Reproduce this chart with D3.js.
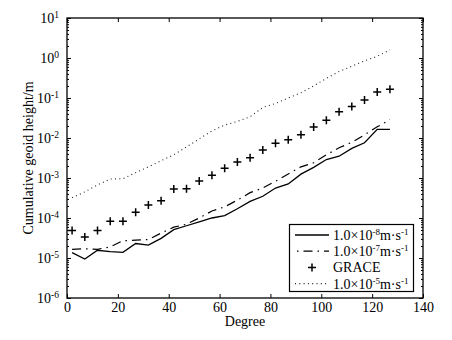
<!DOCTYPE html>
<html>
<head>
<meta charset="utf-8">
<script src="https://cdn.jsdelivr.net/npm/d3@7"></script>
<style>
  body { margin: 0; background: #fff; }
  svg { font-family: "Liberation Serif", "Times New Roman", serif; }
</style>
</head>
<body>
<svg id="chart" width="452" height="340"></svg>
<script>
// degrees sampled every 5
let degrees = [2, 7, 12, 17, 22, 27, 32, 37, 42, 47, 52, 57, 62, 67, 72, 77, 82, 87, 92, 97, 102, 107, 112, 117, 122, 127];

let k1e8 = [1.36e-5, 9.4e-6, 1.56e-5, 1.45e-5, 1.38e-5, 2.3e-5, 2.1e-5, 3.1e-5, 5.1e-5, 6.4e-5, 8.0e-5, 1.0e-4, 1.15e-4,
  1.7e-4, 2.6e-4, 3.5e-4, 5.6e-4, 7.1e-4, 1.25e-3, 1.85e-3, 2.9e-3, 3.5e-3, 5.5e-3, 7.6e-3, 1.65e-2, 1.65e-2];

let k1e7 = [1.65e-5, 1.7e-5, 1.65e-5, 1.9e-5, 2.7e-5, 2.8e-5, 2.9e-5, 4.2e-5, 5.9e-5, 7.0e-5, 1.0e-4, 1.5e-4, 1.9e-4,
  2.8e-4, 4.3e-4, 5.6e-4, 8.3e-4, 1.26e-3, 1.9e-3, 2.4e-3, 3.8e-3, 5.7e-3, 7.8e-3, 1.2e-2, 1.9e-2, 2.9e-2];

let grace = [4.9e-5, 3.35e-5, 4.9e-5, 8.3e-5, 8.3e-5, 1.39e-4, 2.1e-4, 2.7e-4, 5.3e-4, 5.4e-4, 8.4e-4, 1.17e-3, 1.75e-3,
  2.5e-3, 3.2e-3, 5.0e-3, 7.4e-3, 9.1e-3, 1.21e-2, 1.88e-2, 2.77e-2, 4.55e-2, 6.1e-2, 8.9e-2, 0.141, 0.165];

let k1e5 = [3.2e-4, 4.5e-4, 6.7e-4, 9.4e-4, 9.6e-4, 1.36e-3, 1.9e-3, 2.7e-3, 3.8e-3, 6.0e-3, 9.5e-3, 1.5e-2, 2.1e-2,
  2.6e-2, 3.4e-2, 5.8e-2, 7.3e-2, 0.10, 0.135, 0.20, 0.31, 0.46, 0.62, 0.85, 1.1, 1.6];

let xTicks = [0, 20, 40, 60, 80, 100, 120, 140];
let yExps = [-6, -5, -4, -3, -2, -1, 0, 1];

let legendItems = [
  {exp: "-8", kind: "solid"},
  {exp: "-7", kind: "dashdot"},
  {label: "GRACE", kind: "plus"},
  {exp: "-5", kind: "dotted"}
];

let margin = {left: 67, right: 29, top: 18, bottom: 42};
let width = 452, height = 340;
let svg = d3.select("#chart");

let x = d3.scaleLinear().domain([0, 140]).range([margin.left, width - margin.right]);
let y = d3.scaleLog().domain([1e-6, 10]).range([height - margin.bottom, margin.top]);

let majorY = yExps.map(e => Math.pow(10, e));
let minorY = [];
yExps.slice(0, -1).forEach(e => {
  for (let m = 2; m <= 9; m++) minorY.push(m * Math.pow(10, e));
});

let styles = {
  solid: {dash: null, width: 1.3},
  dashdot: {dash: "9,5,1.5,5", width: 1.2},
  dotted: {dash: "1,3.3", width: 1.1}
};

// axes, ticks pointing inward
function styleAxis(g) {
  g.select(".domain").remove();
  g.selectAll("line").attr("stroke", "#000").attr("stroke-width", 1);
}

svg.append("g")
  .attr("transform", `translate(0,${y.range()[0]})`)
  .call(d3.axisBottom(x).tickValues(xTicks).tickSizeInner(-4).tickSizeOuter(0).tickPadding(4))
  .call(styleAxis)
  .selectAll("text")
  .attr("font-size", 14)
  .attr("fill", "#000")
  .attr("font-family", "Liberation Serif, Times New Roman, serif");

svg.append("g")
  .attr("transform", `translate(0,${y.range()[1]})`)
  .call(d3.axisTop(x).tickValues(xTicks).tickSizeInner(-4).tickSizeOuter(0).tickFormat(""))
  .call(styleAxis);

[["left", margin.left, d3.axisLeft, -1], ["right", width - margin.right, d3.axisRight, 1]].forEach(([side, pos, ax]) => {
  svg.append("g")
    .attr("transform", `translate(${pos},0)`)
    .call(ax(y).tickValues(majorY).tickSizeInner(-4).tickSizeOuter(0).tickFormat(""))
    .call(styleAxis);
  svg.append("g")
    .attr("transform", `translate(${pos},0)`)
    .call(ax(y).tickValues(minorY).tickSizeInner(-2).tickSizeOuter(0).tickFormat(""))
    .call(styleAxis);
});

// y tick labels as 10 with superscript
svg.append("g").selectAll("text")
  .data(yExps)
  .join("text")
  .attr("x", margin.left - 8)
  .attr("y", e => y(Math.pow(10, e)) + 5)
  .attr("text-anchor", "end")
  .attr("font-size", 14)
  .each(function(e) {
    let t = d3.select(this);
    t.append("tspan").text("10");
    t.append("tspan").attr("dy", -5).attr("font-size", 9.5).text(e);
  });

// frame
svg.append("rect")
  .attr("x", margin.left)
  .attr("y", margin.top)
  .attr("width", x.range()[1] - x.range()[0])
  .attr("height", y.range()[0] - y.range()[1])
  .attr("fill", "none")
  .attr("stroke", "#000")
  .attr("stroke-width", 1.3);

// series
let line = d3.line()
  .x((d, i) => x(degrees[i]))
  .y(d => y(d));

[[k1e8, "solid"], [k1e7, "dashdot"], [k1e5, "dotted"]].forEach(([vals, kind]) => {
  svg.append("path")
    .datum(vals)
    .attr("d", line)
    .attr("fill", "none")
    .attr("stroke", kind === "dotted" ? "#222" : "#000")
    .attr("stroke-width", styles[kind].width)
    .attr("stroke-dasharray", styles[kind].dash);
});

let plus = d3.symbol().type(d3.symbolCross);
function drawPlus(g, cx, cy) {
  g.append("path")
    .attr("d", `M${cx - 4},${cy}H${cx + 4}M${cx},${cy - 4}V${cy + 4}`)
    .attr("stroke", "#000")
    .attr("stroke-width", 1.5)
    .attr("fill", "none");
}

let gPts = svg.append("g");
grace.forEach((v, i) => drawPlus(gPts, x(degrees[i]), y(v)));

// axis titles
svg.append("text")
  .attr("x", (x.range()[0] + x.range()[1]) / 2)
  .attr("y", 326)
  .attr("text-anchor", "middle")
  .attr("font-size", 14)
  .text("Degree");

svg.append("text")
  .attr("transform", "translate(33,158) rotate(-90)")
  .attr("text-anchor", "middle")
  .attr("font-size", 14)
  .text("Cumulative geoid height/m");

// legend
let lg = svg.append("g");
lg.append("rect")
  .attr("x", 289.5).attr("y", 224.5)
  .attr("width", 124).attr("height", 67)
  .attr("fill", "#fff")
  .attr("stroke", "#000")
  .attr("stroke-width", 1.2);

legendItems.forEach((d, i) => {
  let cy = 235 + i * 16.2;
  if (d.kind === "plus") {
    drawPlus(lg, 312, cy);
  } else {
    lg.append("line")
      .attr("x1", 295).attr("x2", 329)
      .attr("y1", cy).attr("y2", cy)
      .attr("stroke", d.kind === "dotted" ? "#222" : "#000")
      .attr("stroke-width", styles[d.kind].width)
      .attr("stroke-dasharray", styles[d.kind].dash)
      .attr("stroke-dashoffset", d.kind === "dashdot" ? 12 : 0);
  }
  let t = lg.append("text")
    .attr("x", 333)
    .attr("y", cy + 5)
    .attr("font-size", 14);
  if (d.label) {
    t.text(d.label);
  } else {
    t.append("tspan").text("1.0×10");
    t.append("tspan").attr("dy", -5).attr("font-size", 9).text(d.exp);
    t.append("tspan").attr("dy", 5).text("m·s");
    t.append("tspan").attr("dy", -5).attr("font-size", 9).text("-1");
  }
});
</script>
</body>
</html>
